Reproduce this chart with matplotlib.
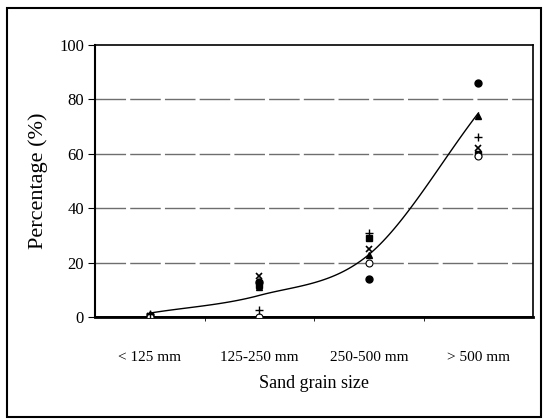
import numpy as np
import matplotlib.pyplot as plt
from matplotlib.patches import Rectangle

plt.rcParams['font.family'] = ['Liberation Serif', 'DejaVu Serif']

categories = ["< 125 mm", "125-250 mm", "250-500 mm", "> 500 mm"]

# individual samples (% of sand in each size class)
sample_square = [0.5, 12, 29, 60]
sample_triangle = [1.0, 11, 23, 74]
sample_cross = [0.5, 15, 25, 62]
sample_circle = [0.3, 13, 14, 86]
sample_open = [0.0, 0.0, 20, 59]
sample_plus = [1.0, 2.5, 31, 66]

# smoothed mean curve
trend = [1.5, 8, 23, 75]


def smooth(y, n=40):
    # catmull-rom style smoothing like the spreadsheet "smoothed line"
    y = np.asarray(y, float)
    p = np.concatenate([[2 * y[0] - y[1]], y, [2 * y[-1] - y[-2]]])
    xs, ys = [], []
    for i in range(len(y) - 1):
        p0, p1, p2, p3 = p[i:i + 4]
        t = np.linspace(0, 1, n)
        q = 0.5 * (2 * p1 + (-p0 + p2) * t + (2 * p0 - 5 * p1 + 4 * p2 - p3) * t ** 2
                   + (-p0 + 3 * p1 - 3 * p2 + p3) * t ** 3)
        xs.append(i + t)
        ys.append(q)
    return np.concatenate(xs), np.concatenate(ys)


fig = plt.figure(figsize=(5.43, 4.19), dpi=100)
ax = fig.add_axes([0.175, 0.243, 0.807, 0.65])

x = np.arange(len(categories))
ax.plot(x, sample_square, 's', color='black', ms=5, zorder=3)
ax.plot(x, sample_triangle, '^', color='black', ms=5, zorder=3)
ax.plot(x, sample_cross, 'x', color='black', ms=5, mew=1.2, zorder=3)
ax.plot(x, sample_circle, 'o', color='black', ms=5, zorder=3)
ax.plot(x, sample_open, 'o', mfc='white', mec='black', ms=5, mew=0.8, zorder=3)
ax.plot(x, sample_plus, '+', color='black', ms=6, mew=1, zorder=3)

sx, sy = smooth(trend)
ax.plot(sx, sy, color='black', lw=1, zorder=2)

ax.set_xlim(-0.5, len(categories) - 0.5)
ax.set_ylim(0, 100)
ax.set_yticks([0, 20, 40, 60, 80, 100])
ax.set_xticks(x)
ax.set_xticklabels(categories, fontsize=11)
ax.set_xticks(x[:-1] + 0.5, minor=True)
ax.tick_params(axis='x', which='major', length=0, pad=24)
ax.tick_params(axis='x', which='minor', length=3, direction='out')
ax.tick_params(axis='y', length=5, direction='out', labelsize=12, pad=3)

for v in [20, 40, 60, 80]:
    ax.axhline(v, color='#6e6e6e', lw=1, ls=(0, (22, 3)), zorder=1)
ax.axhline(0, color='black', lw=2, zorder=2)

for s in ax.spines.values():
    s.set_color('black')
    s.set_linewidth(1.2)
ax.spines['bottom'].set_linewidth(2)
ax.spines['left'].set_linewidth(1.5)

ax.set_ylabel("Percentage (%)", fontsize=16, labelpad=8)
ax.set_xlabel("Sand grain size", fontsize=13, labelpad=8)

fig.patches.append(Rectangle((7 / 543, 2 / 419), 534 / 543, 409 / 419, transform=fig.transFigure,
                             fill=False, edgecolor='black', lw=1.5))

fig.savefig('out.png', dpi=100)
